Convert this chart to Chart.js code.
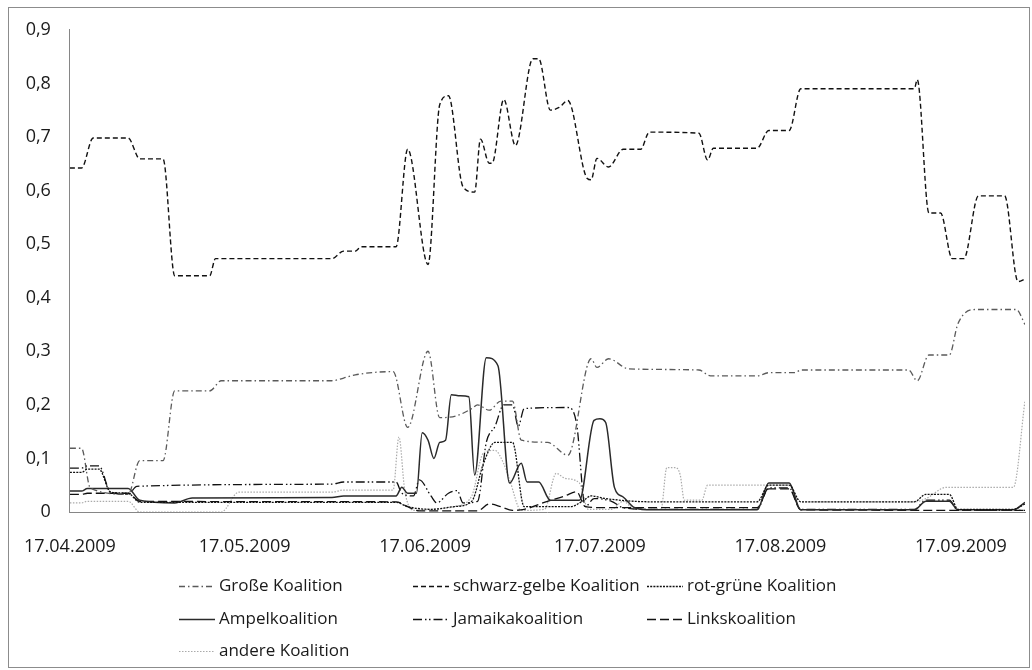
<!DOCTYPE html>
<html>
<head>
<meta charset="utf-8">
<title>Koalitionen 2009</title>
<script src="https://cdn.jsdelivr.net/npm/chart.js@4.4.1/dist/chart.umd.min.js"></script>
<style>
  html, body { margin: 0; padding: 0; background: #fff; }
  #wrap { width: 1032px; height: 670px; }
</style>
</head>
<body>
<div id="wrap"><canvas id="chart" width="1032" height="670"></canvas></div>
<script>
// x = days since 17.04.2009, y = share
const tickDays = [0, 30, 61, 91, 122, 153];
const tickLabels = ['17.04.2009', '17.05.2009', '17.06.2009', '17.07.2009', '17.08.2009', '17.09.2009'];
const yTickLabels = ['0', '0,1', '0,2', '0,3', '0,4', '0,5', '0,6', '0,7', '0,8', '0,9'];

const seriesNames = ['Große Koalition', 'schwarz-gelbe Koalition', 'rot-grüne Koalition',
  'Ampelkoalition', 'Jamaikakoalition', 'Linkskoalition', 'andere Koalition'];

const grosse = [[0,0.119],[2,0.119],[3.5,0.045],[10,0.033],[12,0.096],[16,0.096],[18,0.226],[24,0.226],
  [26,0.245],[45,0.245],[47,0.25],[49,0.256],[55.5,0.262],[58,0.158],[61.5,0.3],[63.5,0.176],[66.5,0.18],
  [69,0.193],[70,0.2],[72,0.19],[74,0.207],[76,0.207],[77.5,0.134],[82,0.13],[85.5,0.106],[89.5,0.286],
  [90.5,0.27],[92.5,0.286],[96,0.267],[108,0.265],[110,0.254],[118,0.254],[120,0.26],[124.5,0.26],
  [125.5,0.265],[144,0.265],[145.5,0.245],[147.5,0.293],[151,0.293],[152.5,0.352],[155.5,0.378],
  [162.5,0.378],[164,0.35]];

const schwarzGelb = [[0,0.642],[2,0.642],[4,0.698],[10,0.698],[12,0.659],[16,0.659],[18,0.441],[24,0.441],
  [25,0.473],[45,0.473],[47,0.487],[49,0.487],[50,0.495],[56,0.495],[58,0.677],[61.5,0.462],[63.5,0.76],
  [65,0.777],[67.5,0.607],[69.5,0.597],[70.5,0.696],[72,0.651],[72.5,0.651],[74.5,0.77],[76.5,0.684],
  [79.5,0.846],[80.5,0.846],[82.5,0.75],[84,0.755],[85.5,0.768],[88.8,0.623],[89.5,0.62],[90.5,0.66],
  [92.5,0.644],[95,0.677],[98,0.677],[99.5,0.709],[108,0.707],[109.5,0.657],[110.5,0.679],[118,0.679],
  [120,0.712],[123.5,0.712],[125.5,0.79],[145,0.79],[145.5,0.807],[147.5,0.558],[149.5,0.558],
  [151.5,0.473],[153.5,0.473],[156,0.59],[160.5,0.59],[162.8,0.43],[164,0.435]];

const rotGruen = [[0,0.074],[2,0.074],[3,0.08],[5,0.08],[7,0.037],[10,0.035],[12,0.018],[56,0.018],
  [58,0.01],[62,0.005],[66,0.01],[69,0.02],[71,0.09],[73,0.13],[76,0.13],[78,0.01],[86,0.01],[88,0.02],
  [89.5,0.03],[92,0.025],[100,0.019],[118,0.019],[120,0.05],[123.5,0.05],[125.5,0.019],[145,0.019],
  [147,0.033],[151,0.033],[152.5,0.005],[162,0.005],[164,0.015]];

const ampel = [[0,0.039],[2,0.039],[3,0.044],[10,0.044],[12,0.022],[18,0.017],[21,0.026],[45,0.027],
  [47,0.03],[56,0.03],[57,0.046],[58,0.035],[59.5,0.035],[60.5,0.148],[61.5,0.134],[62.5,0.1],[63.5,0.13],
  [64.5,0.134],[65.5,0.219],[67,0.217],[68.5,0.215],[69.5,0.069],[71.5,0.288],[73.5,0.273],[75.5,0.054],
  [77.5,0.091],[78.5,0.056],[80.5,0.056],[82.5,0.022],[87.5,0.022],[90,0.171],[91,0.174],[92,0.167],
  [93.5,0.046],[95,0.028],[97,0.008],[100,0.004],[118,0.004],[120,0.054],[123.5,0.054],[125.5,0.004],
  [145,0.004],[147,0.02],[151,0.02],[152.5,0.004],[162,0.004],[164,0.018]];

const jamaika = [[0,0.082],[2,0.082],[3,0.086],[5,0.086],[7,0.037],[10,0.033],[11.5,0.048],[45,0.052],
  [47,0.056],[56,0.056],[57,0.035],[59,0.03],[60,0.06],[62,0.03],[63,0.017],[65,0.035],[66.5,0.04],
  [67.5,0.017],[70,0.02],[71.5,0.13],[73,0.16],[74.5,0.2],[76,0.2],[77,0.16],[78,0.193],[85.5,0.195],
  [87,0.165],[88.5,0.01],[90,0.025],[93,0.02],[95,0.008],[100,0.005],[118,0.005],[120,0.045],
  [123.5,0.045],[125.5,0.005],[145,0.005],[147,0.022],[151,0.022],[152.5,0.003],[164,0.003]];

const links = [[0,0.033],[2,0.033],[3,0.035],[10,0.035],[12,0.02],[56,0.019],[58,0.01],[60,0.002],
  [70,0.002],[72,0.015],[74,0.01],[76,0.003],[78,0.005],[82,0.02],[85,0.03],[87,0.038],[88.5,0.01],
  [92,0.008],[118,0.008],[120,0.043],[123.5,0.043],[125.5,0.004],[164,0.003]];

const andere = [[0,0.017],[2,0.017],[3,0.02],[10,0.02],[12,0],[26,0],[29,0.037],[45,0.037],[47,0.041],
  [55.5,0.041],[56.5,0.14],[57.5,0.04],[59,0.003],[62,0.005],[66,0.01],[69,0.03],[71,0.11],[73,0.115],
  [74.5,0.09],[75.5,0.06],[77.5,0.003],[81.5,0.005],[83.5,0.072],[85,0.063],[87.5,0.054],[89,0.005],
  [93,0.005],[95,0.02],[97,0.005],[101.5,0.005],[102.5,0.083],[104,0.083],[104.8,0.069],[105.5,0.022],
  [108.5,0.022],[109.5,0.05],[119,0.05],[123.5,0.05],[125.5,0.019],[145,0.019],[147,0.025],[150.5,0.046],
  [162,0.046],[164,0.208]];

const seriesData = [grosse, schwarzGelb, rotGruen, ampel, jamaika, links, andere];
const seriesColors = ['#5a5a5a', '#111111', '#111111', '#2a2a2a', '#111111', '#111111', '#aaaaaa'];
const seriesDashes = [[6, 3, 1.5, 3], [5, 3], [2, 1.2], [], [9, 3, 1.5, 2.5, 1.5, 3], [9, 4], [1.5, 1.5]];
const seriesWidths = [1.3, 1.4, 1.3, 1.5, 1.3, 1.3, 1.2];

const legendCols = [219, 453, 687];
const legendRows = [586, 619, 651];

const framePlugin = {
  id: 'frame',
  beforeDraw(chart) {
    const ctx = chart.ctx;
    ctx.save();
    ctx.fillStyle = '#fff';
    ctx.fillRect(0, 0, chart.width, chart.height);
    ctx.strokeStyle = '#8c8c8c';
    ctx.lineWidth = 1;
    ctx.strokeRect(8.5, 7.5, 1021, 660);
    ctx.restore();
  }
};

const gridLegend = {
  id: 'gridLegend',
  afterDraw(chart) {
    const ctx = chart.ctx;
    chart.data.datasets.forEach((ds, i) => {
      const tx = legendCols[i % 3];
      const ty = legendRows[Math.floor(i / 3)];
      ctx.save();
      ctx.strokeStyle = ds.borderColor;
      ctx.lineWidth = ds.borderWidth;
      ctx.setLineDash(ds.borderDash);
      ctx.beginPath();
      ctx.moveTo(tx - 40, ty + 0.5);
      ctx.lineTo(tx - 4, ty + 0.5);
      ctx.stroke();
      ctx.setLineDash([]);
      ctx.fillStyle = '#1a1a1a';
      ctx.font = '17px "Open Sans"';
      ctx.textBaseline = 'middle';
      ctx.fillText(ds.label, tx, ty);
      ctx.restore();
    });
  }
};

const tickFont = { family: '"Open Sans"', size: 18 };

new Chart(document.getElementById('chart'), {
  type: 'line',
  data: {
    datasets: seriesData.map((d, i) => ({
      label: seriesNames[i],
      data: d,
      borderColor: seriesColors[i],
      borderWidth: seriesWidths[i],
      borderDash: seriesDashes[i],
      pointRadius: 0,
      fill: false,
      cubicInterpolationMode: 'monotone'
    }))
  },
  options: {
    responsive: false,
    animation: false,
    events: [],
    layout: { padding: { left: 0, top: 27, right: 7, bottom: 98 } },
    plugins: { legend: { display: false }, tooltip: { enabled: false } },
    scales: {
      x: {
        type: 'linear',
        min: 0,
        max: 164,
        grid: { display: false, drawTicks: false },
        border: { color: '#868686', width: 1 },
        afterBuildTicks: s => { s.ticks = tickDays.map(v => ({ value: v })); },
        afterFit: s => { s.height = 60; },
        ticks: {
          autoSkip: false,
          maxRotation: 0,
          padding: 24,
          color: '#1a1a1a',
          font: tickFont,
          callback: (v, i) => tickLabels[i]
        }
      },
      y: {
        min: 0,
        max: 0.9,
        grid: { display: false, drawTicks: false },
        border: { color: '#868686', width: 1 },
        afterBuildTicks: s => { s.ticks = yTickLabels.map((t, i) => ({ value: i / 10 })); },
        afterFit: s => { s.width = 67; },
        ticks: {
          padding: 19,
          color: '#1a1a1a',
          font: tickFont,
          callback: (v, i) => yTickLabels[i]
        }
      }
    }
  },
  plugins: [framePlugin, gridLegend]
});
</script>
</body>
</html>
